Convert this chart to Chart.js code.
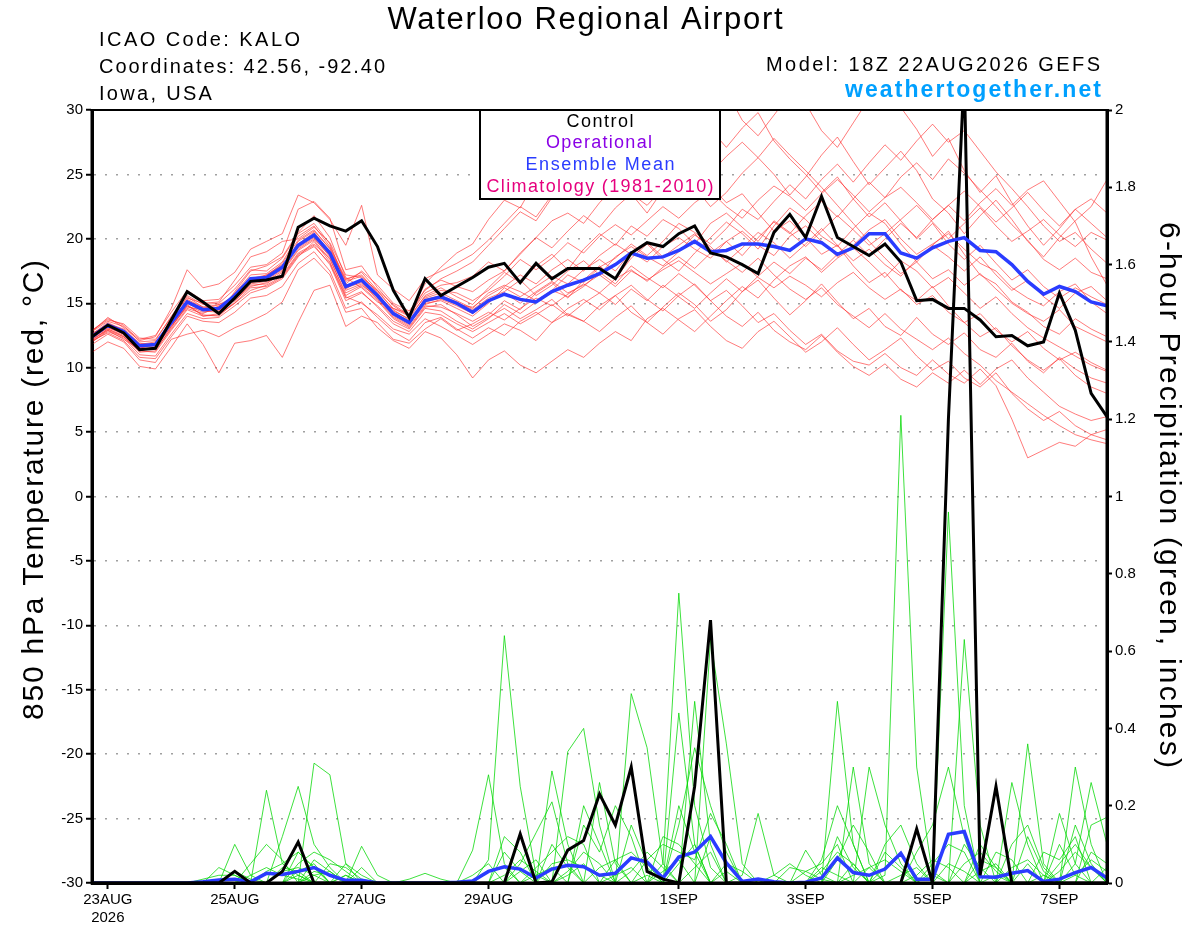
<!DOCTYPE html>
<html>
<head>
<meta charset="utf-8">
<script src="https://cdn.jsdelivr.net/npm/chart.js@4.4.1/dist/chart.umd.min.js"></script>
<style>
html,body{margin:0;padding:0;background:#fff;}
canvas{display:block;}
</style>
</head>
<body>
<canvas id="c" width="1200" height="927"></canvas>
<script>
// ---- time axis: 6-hourly steps from 18Z 22AUG2026 (step 0) to 18Z 07SEP2026 (step 64)
const stepCount = 65;
const tickSteps = [1, 9, 17, 25, 37, 45, 53, 61];
const tickLabels = [['23AUG', '2026'], '25AUG', '27AUG', '29AUG', '1SEP', '3SEP', '5SEP', '7SEP'];

// ---- 850 hPa temperature (deg C)
const controlTemp = [
  12.4, 13.3, 12.7, 11.4, 11.5, 13.7, 15.9, 15.1, 14.2, 15.4,
  16.7, 16.8, 17.1, 20.9, 21.6, 21.0, 20.6, 21.4, 19.4, 16.0,
  13.9, 16.9, 15.6, 16.3, 17.0,
  17.8, 18.1, 16.6, 18.1, 16.9, 17.7, 17.7, 17.7, 16.9, 18.9,
  19.7, 19.4, 20.4, 21.0, 18.9, 18.6, 18.0, 17.3, 20.5, 21.9,
  20.1, 23.3, 20.1, 19.4, 18.7, 19.6, 18.2, 15.2, 15.3, 14.6,
  14.6, 13.7, 12.4, 12.5, 11.7, 12.0, 15.8, 12.9, 8.0, 6.2];
const meanTemp = [
  12.4, 13.3, 12.8, 11.7, 11.8, 13.5, 15.1, 14.5, 14.6, 15.6,
  16.9, 17.0, 17.8, 19.5, 20.3, 18.9, 16.3, 16.8, 15.6, 14.2,
  13.5, 15.2, 15.5, 15.0, 14.3,
  15.2, 15.7, 15.3, 15.1, 15.9, 16.4, 16.8, 17.3, 18.0, 18.9,
  18.5, 18.6, 19.1, 19.8, 19.0, 19.1, 19.6, 19.6, 19.4, 19.1,
  20.0, 19.7, 18.8, 19.3, 20.4, 20.4, 18.9, 18.5, 19.3, 19.8,
  20.1, 19.1, 19.0, 18.0, 16.7, 15.7, 16.3, 15.9, 15.1, 14.8];

const tempMember01 = [
  12.8, 13.6, 13.2, 12.2, 12.5, 14.3, 16.0, 15.2, 15.3, 16.4,
  17.8, 18.0, 18.9, 22.3, 22.9, 21.6, 17.6, 17.9, 16.2, 14.8,
  14.0, 16.1, 16.8, 16.3, 15.9,
  16.8, 17.5, 18.9, 20.1, 21.4, 22.0, 21.2, 22.8, 24.1, 23.5,
  22.0, 23.8, 25.2, 24.0, 22.5, 23.6, 25.1, 26.3, 25.0, 23.4,
  24.8, 26.5, 27.9, 26.0, 24.2, 25.5, 26.8, 25.3, 23.1, 22.0,
  20.4, 21.8, 23.0, 21.5, 19.8, 18.6, 20.1, 21.4, 22.5, 24.6];
const tempMember02 = [
  12.1, 13.0, 12.5, 11.3, 11.6, 13.8, 15.9, 15.0, 14.2, 15.9,
  17.5, 17.9, 18.6, 20.5, 21.8, 20.1, 17.0, 16.2, 15.1, 14.6,
  14.2, 16.5, 17.8, 18.9, 19.6,
  21.5, 23.0, 22.4, 24.6, 25.8, 25.0, 26.9, 28.2, 27.0, 28.4,
  29.6, 30.8, 28.9, 29.8, 31.2, 31.5, 29.2, 28.0, 29.6, 31.2,
  30.5, 28.4, 27.1, 29.0, 30.9, 32.0, 30.2, 28.5, 26.4, 27.8,
  25.3, 23.6, 24.9, 22.8, 21.0, 19.5, 20.8, 22.3, 21.2, 20.1];
const tempMember03 = [
  12.0, 12.8, 12.3, 11.0, 10.9, 12.6, 14.2, 13.8, 13.9, 14.8,
  15.8, 16.2, 16.9, 18.6, 19.8, 18.2, 15.5, 15.0, 14.1, 13.0,
  12.6, 13.8, 13.2, 12.5, 11.8,
  12.6, 13.4, 12.9, 12.1, 13.5, 14.2, 13.6, 12.8, 13.9, 14.8,
  13.5, 12.6, 13.8, 14.5, 13.2, 12.1, 11.5, 12.8, 13.6, 12.4,
  11.2, 12.0, 13.1, 11.8, 10.6, 11.4, 12.3, 10.9, 9.8, 10.5,
  9.2, 8.5, 9.6, 8.0, 6.8, 5.9, 6.6, 5.5, 4.8, 5.2];
const tempMember04 = [
  12.6, 13.5, 12.9, 11.8, 12.0, 13.4, 15.3, 14.7, 14.9, 15.5,
  16.6, 16.8, 17.6, 19.8, 20.6, 19.3, 16.8, 17.4, 16.0, 14.5,
  13.7, 15.0, 15.2, 14.6, 14.0,
  15.0, 16.2, 15.5, 16.3, 17.1, 16.5, 17.6, 18.4, 17.5, 19.0,
  18.2, 19.4, 20.1, 19.2, 18.5, 19.8, 20.6, 19.5, 18.7, 20.2,
  21.0, 19.8, 18.6, 19.5, 20.7, 21.5, 20.0, 18.8, 19.6, 20.4,
  19.2, 18.1, 17.5, 16.2, 15.4, 14.8, 15.9, 16.5, 15.1, 14.2];
const tempMember05 = [
  12.9, 13.8, 13.3, 12.0, 12.1, 14.0, 15.6, 14.9, 15.0, 16.1,
  17.6, 17.5, 18.5, 20.4, 21.2, 19.6, 16.5, 17.5, 16.4, 15.0,
  14.4, 16.0, 16.9, 17.5, 18.2,
  19.5, 20.8, 22.1, 21.4, 23.2, 24.5, 23.8, 25.2, 26.4, 25.1,
  24.0, 25.6, 26.8, 25.5, 24.1, 22.8, 23.5, 22.0, 20.6, 21.4,
  20.1, 18.8, 19.5, 17.9, 16.6, 17.4, 16.0, 15.2, 16.3, 14.8,
  13.5, 14.2, 12.9, 12.0, 12.8, 11.5, 10.6, 11.2, 10.4, 9.8];
const tempMember06 = [
  11.2, 12.0, 11.5, 10.1, 9.9, 11.6, 13.4, 11.8, 9.6, 11.9,
  12.1, 12.5, 10.8, 13.5, 16.0, 16.4, 13.2, 14.0, 13.5, 12.2,
  11.9, 13.0, 13.8, 12.9, 13.4,
  14.1, 15.2, 14.5, 15.8, 16.6, 15.4, 16.8, 17.9, 16.9, 18.5,
  19.6, 18.4, 17.5, 18.9, 20.1, 21.3, 20.4, 19.2, 21.0, 22.4,
  21.5, 20.2, 19.4, 20.8, 22.0, 21.2, 19.6, 18.2, 19.5, 20.6,
  18.8, 17.2, 16.5, 15.1, 14.3, 13.2, 12.6, 13.8, 13.0, 12.4];
const tempMember07 = [
  12.3, 13.1, 12.7, 11.6, 11.4, 13.0, 14.6, 14.2, 14.8, 15.2,
  16.3, 16.6, 17.2, 18.9, 19.6, 18.5, 15.6, 16.3, 15.2, 13.8,
  13.1, 14.7, 14.9, 14.1, 13.2,
  13.9, 14.6, 13.8, 14.5, 15.3, 14.1, 13.6, 14.8, 15.6, 14.3,
  13.5, 14.7, 15.8, 14.9, 13.6, 14.5, 15.9, 16.8, 15.4, 14.1,
  15.2, 16.5, 15.1, 13.8, 14.6, 13.2, 12.5, 13.9, 12.6, 11.8,
  12.7, 11.4, 10.8, 11.9, 10.5, 9.6, 10.8, 9.9, 9.2, 8.8];
const tempMember08 = [
  12.5, 13.4, 13.0, 11.9, 11.7, 13.6, 15.0, 14.4, 14.3, 15.8,
  17.2, 17.3, 18.2, 20.2, 21.0, 19.4, 16.9, 17.2, 15.8, 14.2,
  13.5, 15.4, 15.8, 15.2, 14.6,
  15.8, 16.4, 15.9, 15.2, 16.0, 17.2, 16.6, 17.8, 18.5, 19.6,
  18.7, 19.8, 21.2, 20.5, 19.6, 20.8, 22.3, 21.5, 22.9, 24.2,
  23.1, 24.6, 25.8, 24.4, 25.9, 27.3, 26.1, 27.6, 28.9, 27.5,
  28.4, 26.8, 25.2, 23.9, 22.5, 21.0, 19.8, 20.5, 19.2, 18.1];
const tempMember09 = [
  12.7, 13.2, 12.6, 11.5, 11.9, 13.3, 14.8, 14.3, 14.5, 15.4,
  16.7, 17.2, 18.0, 19.3, 20.1, 18.6, 16.1, 16.9, 15.7, 14.4,
  13.8, 15.6, 16.2, 15.5, 14.9,
  16.2, 17.4, 16.6, 17.9, 18.8, 17.6, 19.2, 20.4, 19.5, 21.0,
  20.2, 21.5, 20.8, 19.6, 21.2, 22.0, 20.9, 19.8, 21.4, 20.5,
  19.4, 20.6, 21.8, 20.7, 19.5, 20.4, 21.5, 22.6, 21.3, 20.0,
  21.2, 22.4, 21.0, 19.8, 20.6, 21.5, 20.3, 19.4, 20.5, 19.9];
const tempMember10 = [
  12.2, 13.0, 12.4, 11.2, 11.3, 13.1, 14.9, 14.0, 14.2, 15.0,
  16.0, 16.4, 17.1, 18.8, 19.5, 18.0, 15.2, 15.8, 14.8, 13.6,
  13.0, 14.6, 14.4, 13.6, 13.0,
  13.8, 14.9, 14.2, 15.1, 16.0, 15.5, 16.3, 17.4, 16.5, 17.9,
  17.0, 16.2, 17.3, 16.4, 15.2, 16.0, 14.8, 13.5, 14.2, 12.9,
  11.8, 12.6, 11.3, 10.5, 10.2, 11.1, 10.0, 9.4, 10.6, 9.5,
  8.8, 9.9, 8.6, 6.0, 3.0, 3.6, 4.2, 3.9, 4.8, 4.4];
const tempMember11 = [
  12.4, 13.2, 12.9, 11.8, 11.9, 13.6, 15.2, 14.6, 14.4, 15.7,
  17.0, 16.9, 17.7, 19.6, 20.5, 19.0, 16.2, 16.6, 15.4, 14.0,
  13.3, 15.3, 15.6, 15.1, 14.5,
  15.4, 15.9, 16.8, 15.6, 16.4, 17.5, 18.3, 17.2, 18.6, 19.4,
  18.6, 17.9, 19.0, 20.3, 19.4, 18.2, 19.3, 20.5, 19.7, 18.5,
  19.6, 20.8, 19.5, 18.3, 19.2, 18.0, 17.1, 18.4, 19.5, 18.6,
  17.5, 18.6, 17.2, 16.0, 16.8, 15.5, 14.6, 15.8, 16.3, 15.2];
const tempMember12 = [
  12.9, 13.7, 13.4, 12.3, 12.2, 13.9, 15.4, 15.0, 15.1, 16.8,
  18.6, 19.0, 19.8, 20.0, 20.9, 19.7, 17.2, 17.0, 16.0, 14.9,
  14.1, 15.8, 16.4, 16.6, 17.1,
  18.2, 17.5, 18.8, 20.1, 19.3, 20.6, 21.8, 20.9, 22.4, 23.5,
  22.6, 23.9, 24.8, 23.5, 25.1, 26.4, 27.5, 26.3, 27.8, 26.5,
  25.3, 24.0, 22.6, 21.2, 19.8, 18.5, 17.3, 18.2, 16.9, 17.6,
  16.4, 17.3, 16.1, 15.0, 14.2, 13.6, 14.5, 13.2, 12.6, 12.0];
const tempMember13 = [
  12.0, 12.9, 12.2, 11.4, 11.6, 13.2, 14.7, 14.5, 14.9, 15.3,
  16.4, 16.5, 17.4, 19.1, 19.9, 18.4, 15.8, 16.4, 15.5, 14.1,
  13.4, 14.9, 15.3, 14.8, 14.2,
  15.1, 15.8, 15.0, 15.9, 16.7, 15.8, 16.4, 17.2, 16.3, 17.5,
  16.8, 17.6, 18.3, 17.4, 16.5, 17.3, 18.1, 17.0, 16.2, 17.1,
  16.4, 15.5, 16.6, 17.4, 16.2, 15.3, 16.1, 14.9, 15.6, 14.3,
  13.5, 12.4, 13.1, 11.7, 10.6, 9.8, 10.7, 9.4, 8.5, 8.0];
const tempMember14 = [
  12.6, 13.4, 12.8, 11.6, 11.8, 13.7, 15.5, 14.7, 14.6, 15.6,
  16.8, 17.1, 18.1, 19.9, 20.7, 19.2, 16.7, 17.1, 15.9, 14.6,
  14.0, 15.5, 16.0, 15.8, 15.2,
  16.0, 17.1, 18.4, 17.6, 18.5, 19.7, 18.9, 20.2, 21.1, 20.3,
  21.4, 22.5, 21.6, 22.8, 23.7, 22.5, 21.6, 23.0, 24.1, 23.3,
  22.2, 23.5, 24.6, 23.4, 22.1, 23.2, 24.0, 22.8, 21.5, 22.6,
  23.7, 22.5, 21.3, 22.4, 23.6, 22.2, 21.0, 22.3, 23.1, 22.0];
const tempMember15 = [
  12.3, 13.1, 12.6, 11.5, 11.5, 13.2, 14.8, 14.1, 14.0, 15.1,
  16.5, 16.7, 17.5, 19.2, 20.0, 18.7, 16.0, 16.5, 15.3, 13.9,
  13.2, 14.8, 14.7, 14.2, 13.6,
  14.3, 13.7, 14.6, 15.4, 14.8, 15.7, 16.5, 15.8, 16.9, 17.6,
  16.7, 17.8, 18.6, 17.7, 18.9, 19.8, 18.7, 20.1, 21.3, 20.4,
  21.8, 22.9, 21.7, 23.1, 24.4, 23.2, 24.8, 25.9, 24.6, 26.2,
  25.1, 23.8, 22.5, 21.1, 19.9, 18.4, 17.6, 18.5, 17.4, 16.9];
const tempMember16 = [
  12.1, 12.7, 12.1, 10.8, 10.7, 12.4, 14.0, 13.6, 13.5, 14.3,
  15.4, 15.6, 16.3, 18.1, 19.0, 17.5, 14.6, 15.1, 13.9, 12.8,
  12.1, 13.5, 13.9, 13.0, 12.3,
  13.1, 12.5, 13.6, 14.3, 13.5, 14.6, 15.3, 14.5, 15.6, 16.4,
  15.3, 14.4, 15.6, 16.5, 15.2, 14.0, 13.2, 14.3, 12.9, 12.0,
  11.4, 12.5, 11.2, 10.1, 9.4, 10.3, 9.1, 8.5, 9.6, 8.8,
  9.8, 8.7, 9.9, 10.6, 9.2, 8.1, 7.0, 6.4, 5.9, 6.2];
const tempMember17 = [
  12.8, 13.9, 13.1, 12.1, 12.4, 14.6, 17.6, 16.2, 16.5, 17.4,
  19.2, 19.8, 20.4, 23.4, 22.8, 21.5, 19.5, 22.6, 17.2, 16.1,
  15.2, 16.9, 17.5, 18.1, 18.8,
  19.9, 21.2, 22.5, 21.7, 23.4, 24.6, 25.8, 24.9, 26.5, 27.9,
  28.8, 30.2, 31.0, 30.4, 28.5, 27.1, 28.6, 29.8, 27.6, 26.2,
  25.0, 23.6, 24.8, 23.1, 21.7, 22.8, 21.4, 20.0, 21.2, 19.6,
  18.4, 19.5, 18.1, 16.8, 17.6, 16.3, 15.4, 16.2, 15.5, 14.9];
const tempMember18 = [
  12.5, 13.3, 12.7, 11.7, 11.6, 13.5, 15.2, 14.6, 14.7, 15.5,
  16.9, 17.2, 17.9, 19.4, 20.2, 18.8, 16.4, 16.7, 15.5, 14.3,
  13.6, 15.1, 15.4, 14.9, 14.7,
  15.6, 16.3, 17.2, 16.5, 17.6, 18.4, 17.5, 18.7, 19.6, 18.8,
  19.7, 18.6, 19.5, 20.4, 19.2, 18.3, 17.4, 18.5, 17.2, 16.1,
  15.3, 16.2, 14.9, 14.0, 13.1, 14.2, 13.0, 12.2, 11.4, 12.3,
  11.1, 10.2, 9.0, 8.1, 7.2, 6.3, 5.5, 4.8, 4.4, 4.1];
const tempMember19 = [
  12.2, 12.9, 12.4, 11.3, 11.2, 12.9, 14.5, 14.0, 14.1, 15.0,
  16.2, 16.3, 17.0, 18.7, 19.4, 18.1, 15.4, 15.9, 14.7, 13.4,
  12.8, 14.3, 14.1, 13.4, 12.8,
  13.5, 14.2, 13.4, 14.1, 14.9, 14.0, 15.0, 15.8, 14.9, 16.1,
  15.2, 16.4, 15.5, 14.6, 15.8, 16.9, 15.9, 17.1, 18.2, 17.3,
  18.5, 17.6, 18.8, 19.9, 18.7, 20.0, 21.2, 20.1, 21.5, 22.6,
  21.4, 22.8, 23.9, 22.6, 23.8, 24.5, 22.9, 21.3, 18.6, 16.4];
const tempMember20 = [
  11.8, 12.6, 12.0, 10.6, 10.4, 12.2, 12.6, 12.9, 12.4, 13.1,
  13.6, 14.2, 15.1, 17.6, 18.5, 17.2, 14.3, 14.6, 13.1, 12.1,
  11.5, 12.8, 12.3, 11.0, 9.2,
  10.6, 11.3, 10.2, 9.6, 10.5, 11.4, 10.8, 11.9, 12.8, 12.1,
  13.8, 14.6, 13.7, 12.8, 14.0, 15.2, 16.3, 15.4, 16.8, 17.9,
  18.6, 17.4, 18.5, 19.3, 18.2, 17.0, 18.3, 17.5, 16.2, 17.0,
  15.8, 14.6, 15.5, 14.2, 13.1, 12.3, 11.6, 10.9, 10.2, 9.7];

// ---- 6-hour precipitation (inches)
const controlPrecip = [
  0, 0, 0, 0, 0, 0, 0, 0, 0, 0.03,
  0, 0, 0.03, 0.106, 0, 0, 0, 0, 0, 0,
  0, 0, 0, 0, 0, 0, 0, 0.127, 0, 0.003,
  0.085, 0.11, 0.23, 0.15, 0.30, 0.03, 0.01, 0, 0.25, 0.68,
  0, 0, 0, 0, 0, 0, 0, 0, 0, 0,
  0, 0, 0.14, 0, 1.2, 2.1, 0.02, 0.25, 0, 0,
  0, 0, 0, 0, 0];
const meanPrecip = [
  0, 0, 0, 0, 0, 0, 0, 0.003, 0.008, 0.01,
  0.003, 0.025, 0.022, 0.03, 0.04, 0.02, 0.007, 0.007, 0, 0,
  0, 0, 0, 0.002, 0.005, 0.03, 0.042, 0.036, 0.013, 0.036,
  0.046, 0.042, 0.02, 0.025, 0.065, 0.054, 0.013, 0.067, 0.08, 0.12,
  0.052, 0.004, 0.01, 0.003, 0, 0.002, 0.013, 0.065, 0.027, 0.02,
  0.036, 0.077, 0.01, 0.01, 0.126, 0.133, 0.016, 0.015, 0.025, 0.032,
  0.004, 0.01, 0.027, 0.04, 0.013];

const precipMember01 = [
  0, 0, 0, 0, 0, 0, 0, 0, 0, 0.10,
  0.02, 0, 0, 0, 0.31, 0.28, 0.05, 0, 0, 0,
  0, 0, 0, 0, 0, 0.06, 0.64, 0.25, 0.02, 0,
  0, 0, 0, 0, 0, 0, 0.05, 0.75, 0.2, 0.04,
  0, 0, 0, 0, 0, 0, 0, 0, 0, 0,
  0.02, 1.21, 0.3, 0.02, 0, 0, 0, 0, 0, 0,
  0, 0, 0.05, 0.26, 0.1];
const precipMember02 = [
  0, 0, 0, 0, 0, 0, 0, 0, 0, 0,
  0, 0.24, 0.05, 0.02, 0, 0, 0, 0.095, 0.02, 0,
  0, 0, 0, 0, 0.085, 0.28, 0.05, 0, 0, 0,
  0.34, 0.40, 0.15, 0, 0, 0, 0, 0, 0.47, 0.1,
  0, 0, 0, 0, 0, 0, 0, 0.47, 0.1, 0,
  0, 0, 0, 0, 0.96, 0.2, 0, 0, 0, 0.36,
  0.05, 0, 0, 0, 0];
const precipMember03 = [
  0, 0, 0, 0, 0, 0, 0, 0, 0, 0,
  0, 0, 0.12, 0.25, 0.1, 0.04, 0, 0, 0, 0,
  0, 0, 0, 0, 0, 0, 0, 0, 0, 0.29,
  0.1, 0, 0, 0, 0.49, 0.35, 0.05, 0, 0, 0.63,
  0.36, 0.05, 0, 0, 0, 0, 0, 0, 0.3, 0.05,
  0, 0, 0, 0, 0, 0.63, 0.15, 0, 0, 0,
  0, 0, 0.3, 0.1, 0];
const precipMember04 = [
  0, 0, 0, 0, 0, 0, 0, 0, 0.04, 0.02,
  0, 0, 0, 0.08, 0.04, 0, 0.02, 0, 0, 0,
  0, 0, 0, 0, 0, 0, 0, 0.05, 0.13, 0.21,
  0.05, 0, 0.26, 0.05, 0, 0, 0, 0.44, 0.1, 0,
  0, 0, 0, 0, 0, 0.085, 0.02, 0, 0, 0.3,
  0.15, 0.05, 0, 0, 0, 0, 0, 0, 0.26, 0.1,
  0, 0.18, 0.05, 0, 0];
const precipMember05 = [
  0, 0, 0, 0, 0, 0, 0, 0, 0, 0,
  0.05, 0.1, 0.06, 0, 0.03, 0.02, 0, 0, 0, 0,
  0, 0, 0, 0, 0, 0, 0.12, 0.08, 0, 0,
  0, 0.15, 0.08, 0.2, 0.12, 0, 0, 0.15, 0.35, 0.2,
  0.08, 0, 0, 0, 0, 0, 0.06, 0.2, 0.1, 0,
  0, 0, 0.08, 0.15, 0.3, 0.12, 0, 0.08, 0.06, 0,
  0, 0, 0, 0.15, 0.17];
const precipMember06 = [
  0, 0, 0, 0, 0, 0, 0, 0, 0, 0,
  0, 0, 0, 0.05, 0.08, 0.06, 0.03, 0, 0, 0,
  0, 0, 0, 0, 0, 0, 0, 0, 0.04, 0.08,
  0.12, 0.1, 0, 0, 0, 0.06, 0.1, 0.08, 0.06, 0.18,
  0.1, 0, 0, 0, 0, 0, 0, 0, 0.05, 0,
  0.1, 0.15, 0.05, 0, 0, 0, 0.06, 0.04, 0, 0,
  0.08, 0.06, 0.12, 0, 0];
const precipMember07 = [
  0, 0, 0, 0, 0, 0, 0, 0, 0, 0.03,
  0.01, 0, 0.04, 0.03, 0.05, 0, 0, 0, 0, 0,
  0, 0, 0, 0, 0, 0, 0.02, 0.06, 0.03, 0,
  0, 0, 0, 0.06, 0.08, 0.04, 0, 0, 0, 0,
  0, 0.02, 0.18, 0.02, 0, 0, 0, 0.06, 0.15, 0.08,
  0, 0, 0, 0.05, 0.1, 0.08, 0, 0, 0, 0.12,
  0.03, 0, 0, 0.08, 0.05];
const precipMember08 = [
  0, 0, 0, 0, 0, 0, 0, 0, 0, 0,
  0, 0.03, 0.05, 0.08, 0.04, 0, 0.05, 0.02, 0, 0,
  0, 0, 0, 0, 0, 0, 0, 0, 0, 0.05,
  0.06, 0.04, 0.02, 0, 0, 0, 0.12, 0.1, 0.05, 0,
  0, 0, 0, 0, 0.04, 0.03, 0.05, 0.1, 0, 0,
  0, 0, 0.02, 0.06, 0.04, 0, 0, 0, 0.1, 0.15,
  0.04, 0, 0, 0, 0];
const precipMember09 = [
  0, 0, 0, 0, 0, 0, 0, 0, 0, 0,
  0, 0, 0, 0, 0.02, 0.03, 0, 0.04, 0, 0,
  0, 0, 0, 0, 0, 0.03, 0.04, 0, 0, 0,
  0.03, 0.08, 0.05, 0, 0.03, 0.08, 0.04, 0, 0, 0,
  0.05, 0.03, 0, 0, 0, 0, 0, 0, 0, 0.04,
  0.06, 0.03, 0, 0, 0, 0.05, 0.08, 0.03, 0, 0,
  0, 0.05, 0.1, 0.04, 0];
const precipMember10 = [
  0, 0, 0, 0, 0, 0, 0, 0, 0, 0,
  0.02, 0.04, 0.02, 0.01, 0, 0, 0, 0, 0, 0,
  0, 0, 0, 0, 0, 0, 0, 0, 0.02, 0.04,
  0, 0, 0, 0.02, 0.04, 0, 0, 0.05, 0.1, 0,
  0, 0, 0, 0, 0, 0, 0.03, 0.08, 0.05, 0,
  0, 0.02, 0.04, 0, 0, 0, 0.03, 0.05, 0, 0,
  0, 0, 0.02, 0.06, 0.03];
const precipMember11 = [
  0, 0, 0, 0, 0, 0, 0, 0, 0, 0,
  0, 0, 0.03, 0.04, 0.02, 0, 0, 0, 0, 0,
  0, 0, 0, 0, 0, 0, 0, 0, 0, 0,
  0.02, 0.05, 0, 0, 0, 0, 0.03, 0.06, 0, 0,
  0, 0, 0, 0.02, 0.05, 0.02, 0, 0, 0, 0,
  0.04, 0.08, 0, 0, 0, 0, 0, 0, 0.04, 0.06,
  0.02, 0, 0, 0, 0];
const precipMember12 = [
  0, 0, 0, 0, 0, 0, 0, 0, 0, 0,
  0, 0, 0, 0.02, 0, 0.05, 0.04, 0.01, 0, 0,
  0, 0, 0, 0, 0, 0, 0, 0.03, 0.06, 0,
  0, 0, 0, 0, 0, 0, 0, 0, 0.04, 0.08,
  0, 0, 0, 0, 0, 0, 0, 0, 0.02, 0.04,
  0, 0, 0, 0, 0.05, 0.03, 0, 0, 0, 0,
  0, 0.03, 0.08, 0.04, 0];
const precipMember13 = [
  0, 0, 0, 0, 0, 0, 0, 0.01, 0.02, 0.02,
  0, 0, 0, 0, 0, 0, 0, 0, 0, 0,
  0.01, 0.025, 0.01, 0, 0, 0, 0, 0, 0, 0,
  0, 0, 0.04, 0.06, 0, 0.02, 0, 0, 0, 0,
  0.03, 0, 0, 0, 0, 0, 0.04, 0.02, 0, 0,
  0, 0, 0, 0.03, 0, 0, 0, 0.02, 0, 0,
  0, 0, 0, 0, 0.04];
const precipMember14 = [
  0, 0, 0, 0, 0, 0, 0, 0, 0, 0,
  0, 0, 0, 0, 0, 0, 0, 0, 0, 0,
  0, 0, 0, 0, 0.02, 0.05, 0, 0, 0, 0.1,
  0.04, 0, 0, 0, 0, 0, 0, 0.2, 0.08, 0,
  0, 0, 0, 0, 0, 0, 0, 0.12, 0.04, 0,
  0, 0, 0, 0, 0, 0, 0.1, 0.04, 0, 0,
  0.02, 0, 0, 0, 0];
const precipMember15 = [
  0, 0, 0, 0, 0, 0, 0, 0, 0, 0,
  0, 0, 0, 0, 0.06, 0.03, 0, 0, 0, 0,
  0, 0, 0, 0, 0, 0, 0, 0, 0, 0,
  0, 0.2, 0.1, 0, 0, 0, 0, 0, 0, 0.12,
  0.05, 0, 0, 0, 0, 0, 0, 0, 0, 0,
  0.08, 0.04, 0, 0, 0, 0, 0, 0, 0, 0.05,
  0, 0, 0.15, 0.05, 0];
const precipMember16 = [
  0, 0, 0, 0, 0, 0, 0, 0, 0, 0,
  0, 0, 0, 0.03, 0, 0, 0.02, 0, 0, 0,
  0, 0, 0, 0, 0, 0, 0.08, 0.03, 0, 0,
  0, 0, 0, 0, 0.15, 0.05, 0, 0, 0, 0,
  0, 0, 0, 0, 0, 0.03, 0.01, 0, 0, 0,
  0, 0, 0, 0, 0, 0.1, 0.04, 0, 0, 0,
  0, 0.1, 0.02, 0, 0];

const tempMembers = [tempMember01, tempMember02, tempMember03, tempMember04, tempMember05,
  tempMember06, tempMember07, tempMember08, tempMember09, tempMember10, tempMember11,
  tempMember12, tempMember13, tempMember14, tempMember15, tempMember16, tempMember17,
  tempMember18, tempMember19, tempMember20];
const precipMembers = [precipMember01, precipMember02, precipMember03, precipMember04,
  precipMember05, precipMember06, precipMember07, precipMember08, precipMember09,
  precipMember10, precipMember11, precipMember12, precipMember13, precipMember14,
  precipMember15, precipMember16];

// ---- styling
const FONT = '"Liberation Sans", Arial, Helvetica, sans-serif';
const toPoints = arr => arr.map((v, i) => ({ x: i, y: v }));

const datasets = [
  { label: 'Control T', data: toPoints(controlTemp), yAxisID: 'y', borderColor: '#000', borderWidth: 3 },
  { label: 'Mean T', data: toPoints(meanTemp), yAxisID: 'y', borderColor: '#2a3cff', borderWidth: 3.5 },
  { label: 'Control P', data: toPoints(controlPrecip), yAxisID: 'y2', borderColor: '#000', borderWidth: 3 },
  { label: 'Mean P', data: toPoints(meanPrecip), yAxisID: 'y2', borderColor: '#2a3cff', borderWidth: 3.5 },
];
tempMembers.forEach((m, k) => datasets.push({
  label: 'T member ' + (k + 1), data: toPoints(m), yAxisID: 'y',
  borderColor: 'rgba(255,45,45,0.7)', borderWidth: 0.9
}));
precipMembers.forEach((m, k) => datasets.push({
  label: 'P member ' + (k + 1), data: toPoints(m), yAxisID: 'y2',
  borderColor: 'rgba(0,215,0,0.85)', borderWidth: 0.9
}));
datasets.forEach(d => { d.pointRadius = 0; d.tension = 0; d.fill = false; });

function fitText(ctx, text, x, y, width, font, color, align, rot) {
  ctx.save();
  ctx.font = font;
  ctx.fillStyle = color;
  ctx.textBaseline = 'alphabetic';
  ctx.textAlign = 'left';
  const hasLS = ('letterSpacing' in ctx);
  if (hasLS) ctx.letterSpacing = '0px';
  const w0 = ctx.measureText(text).width;
  let left;
  if (align === 'center') left = -width / 2;
  else if (align === 'right') left = -width;
  else left = 0;
  ctx.translate(x, y);
  if (rot) ctx.rotate(rot);
  if (hasLS) {
    const ls = (width - w0) / Math.max(1, text.length - 1);
    ctx.letterSpacing = ls.toFixed(2) + 'px';
    ctx.fillText(text, left, 0);
  } else {
    ctx.translate(left, 0);
    ctx.scale(width / w0, 1);
    ctx.fillText(text, 0, 0);
  }
  ctx.restore();
}

const decorPlugin = {
  id: 'decor',
  afterDatasetsDraw(chart) {
    const { ctx, chartArea: a } = chart;
    ctx.save();
    ctx.strokeStyle = '#000';
    ctx.setLineDash([]);
    ctx.lineWidth = 3;
    ctx.beginPath();
    ctx.moveTo(a.left, a.top); ctx.lineTo(a.left, a.bottom);
    ctx.moveTo(a.right, a.top); ctx.lineTo(a.right, a.bottom);
    ctx.moveTo(a.left - 1.5, a.bottom); ctx.lineTo(a.right + 1.5, a.bottom);
    ctx.stroke();
    ctx.lineWidth = 2;
    ctx.beginPath();
    ctx.moveTo(a.left - 1.5, a.top); ctx.lineTo(a.right + 1.5, a.top);
    ctx.stroke();
    ctx.restore();
  },
  afterDraw(chart) {
    const { ctx, chartArea: a } = chart;
    // header
    fitText(ctx, 'Waterloo Regional Airport', 585, 29, 395, '31px ' + FONT, '#000', 'center');
    fitText(ctx, 'ICAO Code: KALO', 99, 46, 201, '20px ' + FONT, '#000', 'left');
    fitText(ctx, 'Coordinates: 42.56, -92.40', 99, 73, 286, '20px ' + FONT, '#000', 'left');
    fitText(ctx, 'Iowa, USA', 99, 100, 113, '20px ' + FONT, '#000', 'left');
    fitText(ctx, 'Model: 18Z 22AUG2026 GEFS', 1100, 71, 334, '20px ' + FONT, '#000', 'right');
    fitText(ctx, 'weathertogether.net', 1101, 97, 256, 'bold 23px ' + FONT, '#00a0ff', 'right');
    // legend box
    ctx.save();
    ctx.fillStyle = '#fff';
    ctx.fillRect(480, a.top, 240, 199 - a.top);
    ctx.strokeStyle = '#000';
    ctx.lineWidth = 2;
    ctx.strokeRect(480, a.top, 240, 199 - a.top);
    ctx.restore();
    fitText(ctx, 'Control', 600, 127, 67, '18px ' + FONT, '#000', 'center');
    fitText(ctx, 'Operational', 599, 148, 106, '18px ' + FONT, '#8a00e6', 'center');
    fitText(ctx, 'Ensemble Mean', 600, 170, 149, '18px ' + FONT, '#2a3cff', 'center');
    fitText(ctx, 'Climatology (1981-2010)', 600, 192, 227, '18px ' + FONT, '#e6007e', 'center');
    // axis titles
    fitText(ctx, '850 hPa Temperature (red, °C)', 43, 490, 460, '30px ' + FONT, '#000', 'center', -Math.PI / 2);
    fitText(ctx, '6-hour Precipitation (green, inches)', 1160, 495, 546, '30px ' + FONT, '#000', 'center', Math.PI / 2);
  }
};

new Chart(document.getElementById('c'), {
  type: 'line',
  data: { datasets },
  options: {
    responsive: false,
    devicePixelRatio: 1,
    animation: false,
    layout: { padding: { top: 110, left: 0, right: 0, bottom: 0 } },
    plugins: { legend: { display: false }, tooltip: { enabled: false }, title: { display: false } },
    scales: {
      x: {
        type: 'linear', min: 0, max: stepCount - 1,
        afterBuildTicks: s => { s.ticks = tickSteps.map(v => ({ value: v })); },
        afterFit: s => { s.height = 44; },
        ticks: {
          autoSkip: false, maxRotation: 0, minRotation: 0, padding: 2,
          color: '#000', font: { family: FONT, size: 15 },
          callback: v => { const k = tickSteps.indexOf(v); return k >= 0 ? tickLabels[k] : ''; }
        },
        grid: { drawOnChartArea: false, drawTicks: true, tickLength: 6, tickColor: '#000', tickWidth: 2 },
        border: { display: true, color: '#000', width: 3 }
      },
      y: {
        type: 'linear', position: 'left', min: -30, max: 30,
        afterFit: s => { s.width = 92; },
        ticks: { stepSize: 5, color: '#000', padding: 3, font: { family: FONT, size: 15 } },
        grid: {
          drawOnChartArea: true, color: '#a0a0a0', lineWidth: 1.5,
          tickLength: 6, tickColor: '#000', tickWidth: 2, tickBorderDash: []
        },
        border: { display: true, color: '#000', width: 3, dash: [2, 9] }
      },
      y2: {
        type: 'linear', position: 'right', min: 0, max: 2,
        afterFit: s => { s.width = 93; },
        ticks: {
          stepSize: 0.2, color: '#000', padding: 3, font: { family: FONT, size: 15 },
          callback: v => String(Number(v.toFixed(1)))
        },
        grid: { drawOnChartArea: false, tickLength: 5, tickColor: '#000', tickWidth: 2 },
        border: { display: true, color: '#000', width: 3 }
      }
    }
  },
  plugins: [decorPlugin]
});
</script>
</body>
</html>
